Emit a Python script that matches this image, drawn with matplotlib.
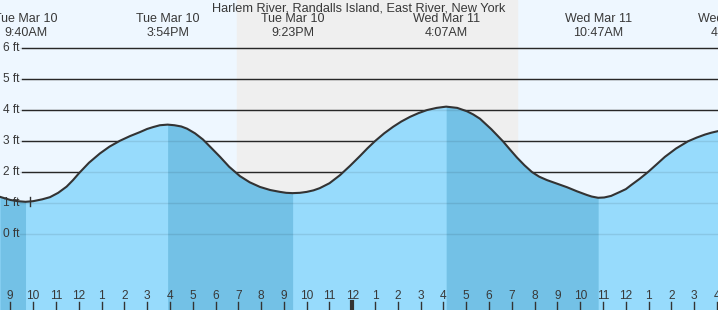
import numpy as np
import matplotlib.pyplot as plt
import matplotlib.transforms as mtransforms

plt.rcParams['font.family'] = ['Liberation Sans', 'DejaVu Sans']

# Tide height (ft); time in hours since Tue Mar 10 00:00
hours = [8.548, 9.0, 9.33, 9.667, 10.0, 10.4, 10.74, 11.1, 11.47, 11.75, 12.01, 12.45,
         12.93, 13.35, 13.81, 14.25, 14.69, 15.0, 15.26, 15.56, 15.9, 16.2, 16.5, 16.75,
         17.1, 17.45, 17.8, 18.2, 18.6, 19.07, 19.5, 19.95, 20.4, 20.83, 21.1, 21.383,
         21.7, 22.0, 22.3, 22.57, 23.0, 23.46, 23.9, 24.34, 24.67, 25.0, 25.4, 25.79,
         26.15, 26.53, 26.9, 27.28, 27.7, 28.117, 28.6, 29.03, 29.3, 29.6, 30.1, 30.61,
         30.9, 31.22, 31.55, 31.88, 32.2, 32.54, 33.0, 33.42, 33.85, 34.29, 34.5, 34.783,
         35.05, 35.35, 35.74, 36.0, 36.23, 36.6, 36.97, 37.35, 37.71, 38.2, 38.72, 39.1,
         39.47, 39.75, 40.04]
heights = [1.21, 1.11, 1.07, 1.05, 1.07, 1.13, 1.20, 1.34, 1.54, 1.75, 1.97, 2.31,
           2.61, 2.83, 3.02, 3.17, 3.30, 3.40, 3.46, 3.52, 3.54, 3.52, 3.48, 3.41,
           3.26, 3.06, 2.80, 2.50, 2.18, 1.88, 1.68, 1.53, 1.43, 1.37, 1.34, 1.33,
           1.34, 1.37, 1.42, 1.49, 1.65, 1.91, 2.21, 2.53, 2.78, 3.01, 3.26, 3.47,
           3.64, 3.79, 3.91, 4.01, 4.08, 4.12, 4.08, 3.97, 3.87, 3.73, 3.39, 3.00,
           2.75, 2.48, 2.23, 2.01, 1.86, 1.75, 1.63, 1.52, 1.39, 1.27, 1.22, 1.18,
           1.19, 1.24, 1.37, 1.46, 1.59, 1.79, 2.01, 2.26, 2.50, 2.77, 3.00, 3.12,
           3.22, 3.28, 3.33]

# High / low events
event_hours = [9.667, 15.9, 21.383, 28.117, 34.783, 40.65]
event_days = ["Tue Mar 10", "Tue Mar 10", "Tue Mar 10", "Wed Mar 11", "Wed Mar 11", "Wed Mar 11"]
event_times = ["9:40AM", "3:54PM", "9:23PM", "4:07AM", "10:47AM", "4:39PM"]

# falling tide periods (shaded darker)
falling = [(8.548, 9.667), (15.9, 21.383), (28.117, 34.783)]

# night (sunset -> sunrise)
night_start, night_end = 18.94, 31.22

ft_levels = [0, 1, 2, 3, 4, 5, 6]
tick_hours = list(range(9, 41))

x0, x1 = 8.548, 40.04
y0, y1 = -2.44, 7.56

W, H = 718, 310
fig = plt.figure(figsize=(W / 100, H / 100), dpi=100)
ax = fig.add_axes([0, 0, 1, 1])
ax.set_xlim(x0, x1)
ax.set_ylim(y0, y1)
ax.axis('off')

txt = '#383838'
ax.axvspan(x0, x1, color='#eef7ff', zorder=0)
ax.axvspan(night_start, night_end, color='#efefef', zorder=0.5)

# grid lines (under water) and faint ones on top of the water
yt = mtransforms.blended_transform_factory(ax.transAxes, ax.transData)
for lv in ft_levels:
    ax.axhline(lv, xmin=22 / W, xmax=1, color='#2b2b2b', lw=1.0, zorder=1)
    ax.axhline(lv, xmin=20 / W, xmax=1, color=(0, 0, 0, 0.09), lw=1.0, zorder=3)
    ax.text(3 / W, lv, f"{lv} ft", transform=yt,
            ha='left', va='center', fontsize=8.6, color=txt, zorder=4)

h = np.array(hours)
y = np.array(heights)
ax.fill_between(h, y0, y, color='#97dbfc', lw=0, zorder=2)
for a, b in falling:
    m = (h >= a) & (h <= b)
    ax.fill_between(h[m], y0, y[m], color='#73c1e6', lw=0, zorder=2.1)
ax.plot(h, y, color='#333333', lw=1.5, zorder=5, solid_joinstyle='round')

# current-time marker
ax.plot([9.864, 9.864], [0.9, 1.2], color='#333333', lw=1, zorder=5)

# event labels
bt = mtransforms.blended_transform_factory(ax.transData, ax.transAxes)
for eh, d, t in zip(event_hours, event_days, event_times):
    ax.text(eh, 1 - 19.5 / H, d, transform=bt, ha='center', va='center', fontsize=9, color=txt)
    ax.text(eh, 1 - 32.5 / H, t, transform=bt, ha='center', va='center', fontsize=9, color=txt)

fig.text(0.5, 1 - 8.5 / H, "Harlem River, Randalls Island, East River, New York",
         ha='center', va='center', fontsize=9.2, color=txt)

# hour ticks along the bottom
for th in tick_hours:
    lab = (th - 1) % 12 + 1
    ax.text(th, 1 - 296 / H, str(lab), transform=bt, ha='center', va='center',
            fontsize=8.6, color=txt, zorder=6)
    ax.plot([th, th], [0, 8 / H], transform=bt, color='#333333',
            lw=3 if th % 24 == 0 else 1, zorder=6)

plt.savefig("out.png", dpi=100)
